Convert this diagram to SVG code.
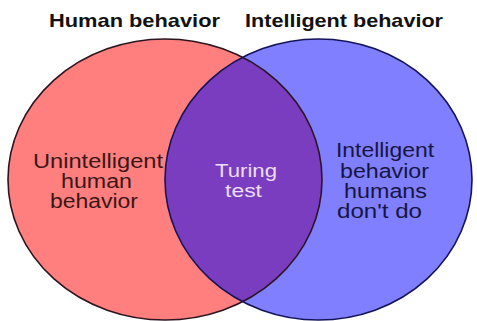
<svg xmlns="http://www.w3.org/2000/svg" width="477" height="321" viewBox="0 0 477 321">
  <style>
    .title { font-family: "Liberation Sans", Arial, sans-serif; font-weight: bold; font-size: 19px; fill: #111; }
    .lbl { font-family: "Liberation Sans", Arial, sans-serif; font-size: 20px; text-anchor: middle; }
    .mid { font-size: 17.5px; }
    .lt { fill: #3a1616; }
    .rt { fill: #16163e; }
    .mt { fill: #ecdff7; }
  </style>
  <defs>
    <clipPath id="clipBlue">
      <ellipse cx="318.5" cy="179.5" rx="153.5" ry="140.5"/>
    </clipPath>
  </defs>
  <rect width="477" height="321" fill="#ffffff"/>
  <g id="human-set">
    <ellipse cx="165" cy="179.5" rx="157" ry="140.5" fill="#ff7f7f"/>
  </g>
  <g id="intelligent-set">
    <ellipse cx="318.5" cy="179.5" rx="153.5" ry="140.5" fill="#7f7fff"/>
  </g>
  <g id="overlap">
    <ellipse cx="165" cy="179.5" rx="157" ry="140.5" fill="#7b3dbf" clip-path="url(#clipBlue)"/>
  </g>
  <g id="outlines" fill="none" stroke-width="1.6">
    <ellipse cx="165" cy="179.5" rx="157" ry="140.5" stroke="#2c1420"/>
    <ellipse cx="318.5" cy="179.5" rx="153.5" ry="140.5" stroke="#14145a"/>
  </g>
  <g id="titles">
    <text class="title" x="49" y="27" textLength="171" lengthAdjust="spacingAndGlyphs">Human behavior</text>
    <text class="title" x="245" y="27" textLength="198" lengthAdjust="spacingAndGlyphs">Intelligent behavior</text>
  </g>
  <g id="left-label" class="lbl lt">
    <text x="98" y="168" textLength="130" lengthAdjust="spacingAndGlyphs">Unintelligent</text>
    <text x="96.5" y="188" textLength="71" lengthAdjust="spacingAndGlyphs">human</text>
    <text x="94" y="208" textLength="88" lengthAdjust="spacingAndGlyphs">behavior</text>
  </g>
  <g id="middle-label" class="lbl mid mt">
    <text x="246" y="177" textLength="62" lengthAdjust="spacingAndGlyphs">Turing</text>
    <text x="243.5" y="197" textLength="37" lengthAdjust="spacingAndGlyphs">test</text>
  </g>
  <g id="right-label" class="lbl rt">
    <text x="385" y="157" textLength="98" lengthAdjust="spacingAndGlyphs">Intelligent</text>
    <text x="384.5" y="178" textLength="89" lengthAdjust="spacingAndGlyphs">behavior</text>
    <text x="385.5" y="198" textLength="83" lengthAdjust="spacingAndGlyphs">humans</text>
    <text x="379.5" y="218" textLength="85" lengthAdjust="spacingAndGlyphs">don't do</text>
  </g>
</svg>
